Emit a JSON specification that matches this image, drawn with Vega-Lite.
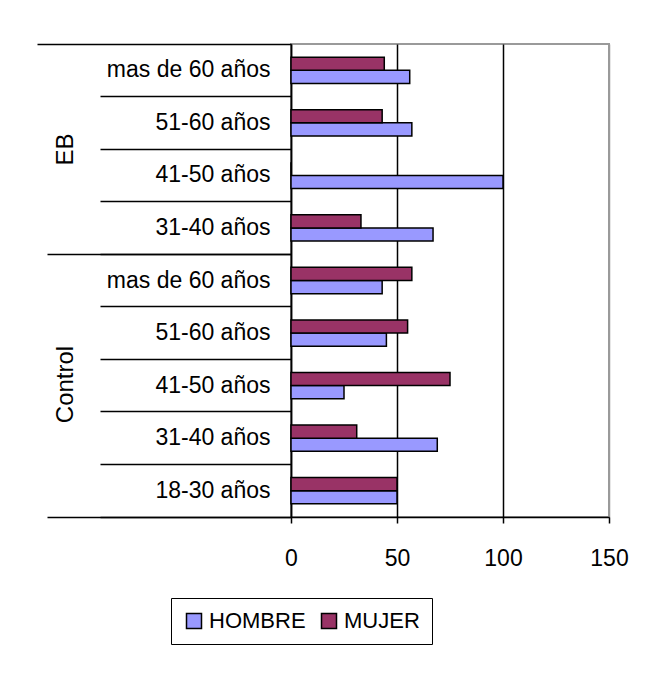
{
  "$schema": "https://vega.github.io/schema/vega-lite/v6.json",
  "width": 318,
  "height": 473,
  "autosize": {"type": "none"},
  "padding": {"left": 291, "top": 44, "right": 44, "bottom": 168},
  "background": "white",
  "config": {
    "font": "Liberation Sans",
    "view": {"stroke": "#9a9a9a", "strokeWidth": 2}
  },
  "data": {
    "values": [
      {"categoria": "EB|mas de 60 años", "grupo": "EB", "edad": "mas de 60 años", "sexo": "HOMBRE", "valor": 56},
      {"categoria": "EB|mas de 60 años", "grupo": "EB", "edad": "mas de 60 años", "sexo": "MUJER", "valor": 44},
      {"categoria": "EB|51-60 años", "grupo": "EB", "edad": "51-60 años", "sexo": "HOMBRE", "valor": 57},
      {"categoria": "EB|51-60 años", "grupo": "EB", "edad": "51-60 años", "sexo": "MUJER", "valor": 43},
      {"categoria": "EB|41-50 años", "grupo": "EB", "edad": "41-50 años", "sexo": "HOMBRE", "valor": 100},
      {"categoria": "EB|41-50 años", "grupo": "EB", "edad": "41-50 años", "sexo": "MUJER", "valor": 0},
      {"categoria": "EB|31-40 años", "grupo": "EB", "edad": "31-40 años", "sexo": "HOMBRE", "valor": 67},
      {"categoria": "EB|31-40 años", "grupo": "EB", "edad": "31-40 años", "sexo": "MUJER", "valor": 33},
      {"categoria": "Control|mas de 60 años", "grupo": "Control", "edad": "mas de 60 años", "sexo": "HOMBRE", "valor": 43},
      {"categoria": "Control|mas de 60 años", "grupo": "Control", "edad": "mas de 60 años", "sexo": "MUJER", "valor": 57},
      {"categoria": "Control|51-60 años", "grupo": "Control", "edad": "51-60 años", "sexo": "HOMBRE", "valor": 45},
      {"categoria": "Control|51-60 años", "grupo": "Control", "edad": "51-60 años", "sexo": "MUJER", "valor": 55},
      {"categoria": "Control|41-50 años", "grupo": "Control", "edad": "41-50 años", "sexo": "HOMBRE", "valor": 25},
      {"categoria": "Control|41-50 años", "grupo": "Control", "edad": "41-50 años", "sexo": "MUJER", "valor": 75},
      {"categoria": "Control|31-40 años", "grupo": "Control", "edad": "31-40 años", "sexo": "HOMBRE", "valor": 69},
      {"categoria": "Control|31-40 años", "grupo": "Control", "edad": "31-40 años", "sexo": "MUJER", "valor": 31},
      {"categoria": "Control|18-30 años", "grupo": "Control", "edad": "18-30 años", "sexo": "HOMBRE", "valor": 50},
      {"categoria": "Control|18-30 años", "grupo": "Control", "edad": "18-30 años", "sexo": "MUJER", "valor": 50}
    ]
  },
  "layer": [
    {
      "mark": {"type": "bar", "stroke": "black", "strokeWidth": 1.5},
      "encoding": {
        "y": {
          "field": "categoria",
          "type": "nominal",
          "sort": ["EB|mas de 60 años", "EB|51-60 años", "EB|41-50 años", "EB|31-40 años", "Control|mas de 60 años", "Control|51-60 años", "Control|41-50 años", "Control|31-40 años", "Control|18-30 años"],
          "scale": {"paddingInner": 0, "paddingOuter": 0},
          "axis": {
            "orient": "left",
            "title": null,
            "bandPosition": 1,
            "labelExpr": "split(datum.label, '|')[1]",
            "labelOffset": 0,
            "labelPadding": -170,
            "labelFontSize": 23,
            "labelColor": "black",
            "tickSize": 191,
            "tickColor": "black",
            "tickWidth": 1.5,
            "domainColor": "black",
            "domainWidth": 1.5
          }
        },
        "yOffset": {
          "field": "sexo",
          "type": "nominal",
          "sort": ["MUJER", "HOMBRE"],
          "scale": {"paddingInner": 0, "paddingOuter": 1.1}
        },
        "x": {
          "field": "valor",
          "type": "quantitative",
          "scale": {"domain": [0, 150]},
          "axis": {
            "title": null,
            "values": [0, 50, 100, 150],
            "grid": true,
            "gridColor": {"condition": {"test": "datum.value == 150", "value": "#9a9a9a"}, "value": "black"},
            "gridWidth": 1.5,
            "domainColor": "black",
            "domainWidth": 1.5,
            "tickColor": "black",
            "tickWidth": 1.5,
            "tickSize": 6,
            "labelPadding": 24,
            "labelFontSize": 23,
            "labelColor": "black",
            "labelFlush": false
          }
        },
        "color": {
          "field": "sexo",
          "type": "nominal",
          "scale": {"domain": ["HOMBRE", "MUJER"], "range": ["#9999ff", "#993366"]},
          "legend": {
            "title": null,
            "orient": "none",
            "legendX": -120,
            "legendY": 554,
            "direction": "horizontal",
            "strokeColor": "black",
            "fillColor": "white",
            "padding": 12,
            "symbolType": "square",
            "symbolSize": 225,
            "symbolStrokeColor": "black",
            "symbolStrokeWidth": 1.5,
            "symbolOpacity": 1,
            "labelFontSize": 22,
            "labelColor": "black",
            "labelOffset": 4,
            "columnPadding": 12
          }
        }
      }
    },
    {
      "mark": {"type": "point", "opacity": 0},
      "encoding": {
        "y": {
          "field": "categoria",
          "type": "nominal",
          "sort": ["EB|mas de 60 años", "EB|51-60 años", "EB|41-50 años", "EB|31-40 años", "Control|mas de 60 años", "Control|51-60 años", "Control|41-50 años", "Control|31-40 años", "Control|18-30 años"],
          "axis": {
            "orient": "left",
            "values": ["EB|31-40 años", "Control|18-30 años"],
            "bandPosition": 1,
            "tickSize": 244,
            "tickColor": "black",
            "tickWidth": 1.5,
            "labels": false,
            "domain": false,
            "title": "EB",
            "titleX": -226,
            "titleY": 105,
            "titleAngle": -90,
            "titleAlign": "center",
            "titleBaseline": "middle",
            "titleFontSize": 24,
            "titleFontWeight": "normal",
            "titleColor": "black"
          }
        }
      }
    },
    {
      "mark": {"type": "point", "opacity": 0},
      "encoding": {
        "y": {
          "field": "categoria",
          "type": "nominal",
          "sort": ["EB|mas de 60 años", "EB|51-60 años", "EB|41-50 años", "EB|31-40 años", "Control|mas de 60 años", "Control|51-60 años", "Control|41-50 años", "Control|31-40 años", "Control|18-30 años"],
          "axis": {
            "orient": "left",
            "values": ["EB|mas de 60 años"],
            "bandPosition": 0,
            "tickSize": 254,
            "tickColor": "black",
            "tickWidth": 1.5,
            "labels": false,
            "domain": false,
            "title": "Control",
            "titleX": -226,
            "titleY": 340,
            "titleAngle": -90,
            "titleAlign": "center",
            "titleBaseline": "middle",
            "titleFontSize": 24,
            "titleFontWeight": "normal",
            "titleColor": "black"
          }
        }
      }
    }
  ],
  "resolve": {"axis": {"y": "independent"}}
}
